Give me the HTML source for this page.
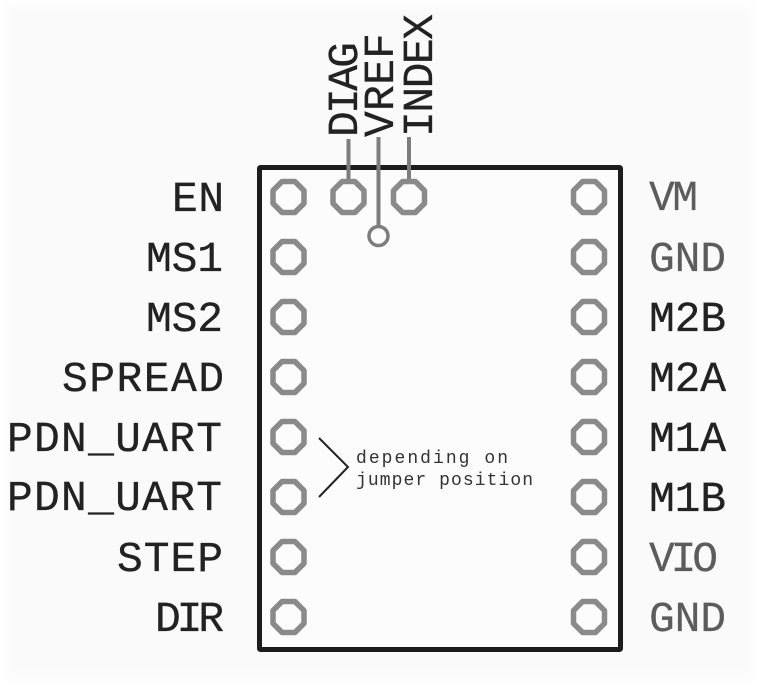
<!DOCTYPE html>
<html><head><meta charset="utf-8"><style>
html,body{margin:0;padding:0;background:#fff;width:766px;height:686px;overflow:hidden}
svg{display:block}
text{font-family:"Liberation Mono",monospace}
.l{font-size:43px;fill:#222;stroke:#222;stroke-width:.3}
.g{font-size:43px;fill:#5c5c5c;stroke:#5c5c5c;stroke-width:.2}
.s{font-size:18px;fill:#333}
</style></head><body>
<svg width="766" height="686" viewBox="0 0 766 686" xmlns="http://www.w3.org/2000/svg">
<defs>
<filter id="b" x="-5%" y="-5%" width="110%" height="110%"><feGaussianBlur stdDeviation="5"/></filter>
<polygon id="p" points="-6.400,-15.500 6.400,-15.500 15.500,-6.400 15.500,6.400 6.400,15.500 -6.400,15.500 -15.500,6.400 -15.500,-6.400" fill="#fcfcfc" stroke="#8a8a8a" stroke-width="5.500" stroke-linejoin="round"/>
</defs>
<rect x="6" y="4" width="746" height="674" fill="#fafafa" filter="url(#b)"/>
<rect x="259.500" y="167.500" width="361" height="482" rx="1" fill="#fcfcfc" stroke="#1c1c1c" stroke-width="5"/>
<g stroke="#7d7d7d" stroke-width="4" fill="none">
<line x1="348.500" y1="139" x2="348.500" y2="182"/>
<line x1="378.500" y1="137" x2="378.500" y2="226"/>
<line x1="409" y1="137" x2="409" y2="182"/>
</g>
<g>
<use href="#p" x="288.500" y="197"/><use href="#p" x="348.500" y="197"/><use href="#p" x="409" y="197"/>
<use href="#p" x="288.500" y="257"/><use href="#p" x="288.500" y="317"/><use href="#p" x="288.500" y="377"/>
<use href="#p" x="288.500" y="437"/><use href="#p" x="288.500" y="497"/><use href="#p" x="288.500" y="557"/><use href="#p" x="288.500" y="617"/>
<use href="#p" x="589" y="197"/><use href="#p" x="589" y="257"/><use href="#p" x="589" y="317"/><use href="#p" x="589" y="377"/>
<use href="#p" x="589" y="437"/><use href="#p" x="589" y="497"/><use href="#p" x="589" y="557"/><use href="#p" x="589" y="617"/>
</g>
<circle cx="378.500" cy="236" r="9.500" fill="#fcfcfc" stroke="#7d7d7d" stroke-width="3.500"/>
<polyline points="319,438 348,467 319,497" fill="none" stroke="#222" stroke-width="2"/>
<text class="s" x="356" y="463" textLength="152">depending on</text>
<text class="s" x="356" y="485" textLength="177">jumper position</text>

<text class="l" x="172" y="211" textLength="52">EN</text>
<text class="l" x="146" y="271" textLength="77">MS1</text>
<text class="l" x="146" y="331" textLength="77">MS2</text>
<text class="l" x="62" y="391" textLength="162">SPREAD</text>
<text class="l" x="7" y="451" textLength="215">PDN_UART</text>
<text class="l" x="7" y="510" textLength="215">PDN_UART</text>
<text class="l" x="117" y="571" textLength="106">STEP</text>
<text class="l" x="155" y="631" textLength="69">DIR</text>

<text class="g" x="649" y="210" textLength="49">VM</text>
<text class="g" x="649" y="271" textLength="77">GND</text>
<text class="l" x="649" y="331" textLength="77">M2B</text>
<text class="l" x="649" y="391" textLength="77">M2A</text>
<text class="l" x="649" y="451" textLength="77">M1A</text>
<text class="l" x="649" y="511" textLength="77">M1B</text>
<text class="g" x="649" y="571" textLength="69">VIO</text>
<text class="g" x="649" y="631" textLength="77">GND</text>

<text class="l" transform="translate(357 137) rotate(-90)" textLength="95">DIAG</text>
<text class="l" transform="translate(393 137) rotate(-90)" textLength="104">VREF</text>
<text class="l" transform="translate(432 137) rotate(-90)" textLength="123">INDEX</text>
</svg>
</body></html>
